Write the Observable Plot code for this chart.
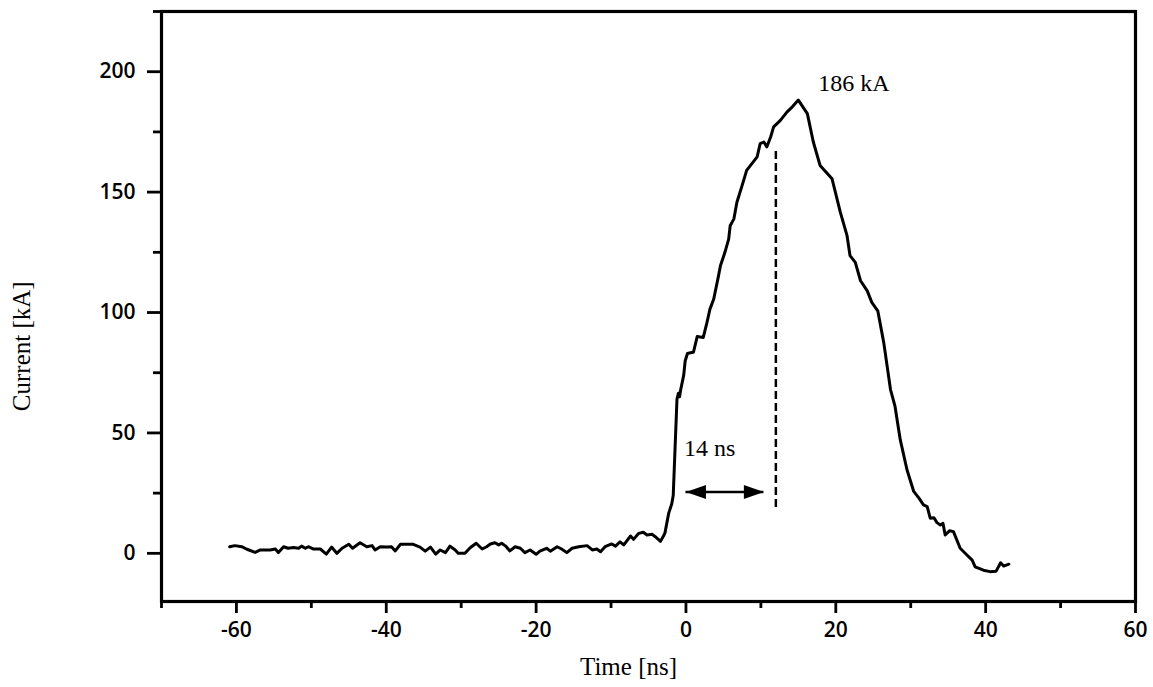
<!DOCTYPE html>
<html>
<head>
<meta charset="utf-8">
<script src="https://cdn.jsdelivr.net/npm/d3@7"></script>
<script src="https://cdn.jsdelivr.net/npm/@observablehq/plot@0.6"></script>
<style>
  html, body { margin: 0; padding: 0; background: #fff; }
  #chart svg [aria-label="frame"] { stroke-width: 3.2px; }
  #chart svg [aria-label$="tick"] { stroke-width: 2.8px; }
  #chart svg [aria-label$="tick label"] { font-weight: 600; }
</style>
</head>
<body>
<div id="chart"></div>
<script>
// ---- data ----
const time = [
  -60.9, -60.2, -59.3, -58.6, -57.5, -56.8, -55.5, -54.8, -54.4, -53.7, -53.1, -52.4, -51.7, -51.3, -50.8, -50.4,
  -49.7, -48.8, -48.0, -47.3, -46.6, -45.9, -45.0, -44.5, -43.5, -42.6, -41.9, -41.5, -40.8, -39.9, -39.3, -38.8,
  -38.1, -37.7, -36.4, -35.5, -34.8, -34.1, -33.4, -32.8, -32.1, -31.5, -30.8, -30.4, -29.5, -28.8, -28.0, -27.2,
  -26.6, -26.1, -25.5, -25.0, -24.6, -24.1, -23.5, -22.8, -22.1, -21.5, -20.8, -20.0, -19.5, -18.6, -18.1, -17.2,
  -16.6, -15.9, -15.2, -14.3, -13.2, -12.5, -11.9, -11.4, -10.8, -9.9, -9.4, -8.8, -8.3, -7.4, -7.0, -6.3,
  -5.7, -5.2, -4.5, -4.1, -3.4, -3.0, -2.8, -2.3, -1.9, -1.7, -1.2, -1.0, -0.85, -0.7, -0.3, -0.1,
  0.2, 0.6, 1.0, 1.5, 2.3, 2.8, 3.2, 3.7, 4.35, 4.6, 5.2, 5.7, 5.9, 6.4, 6.8, 7.5,
  8.1, 8.8, 9.5, 9.9, 10.4, 10.8, 11.3, 11.7, 12.6, 13.5, 14.2, 15.0, 16.2, 17.0, 17.9, 19.5,
  20.6, 21.5, 21.9, 22.6, 23.3, 24.2, 24.8, 25.6, 26.4, 27.3, 27.9, 28.6, 29.5, 30.4, 31.1, 31.7,
  32.2, 32.6, 33.1, 33.5, 33.95, 34.3, 34.6, 35.2, 35.7, 36.6, 37.5, 38.2, 38.6, 39.7, 40.6, 41.4,
  42.0, 42.4, 43.1
];
const current = [
  2.75, 3.2, 2.75, 1.7, 0.4, 1.4, 1.4, 1.8, 0.3, 2.75, 2.1, 2.4, 2.1, 3.0, 2.1, 2.75,
  1.8, 1.8, -0.3, 2.6, 0.0, 2.1, 3.75, 2.1, 4.4, 2.75, 3.2, 1.4, 2.75, 2.6, 2.75, 1.0,
  3.75, 3.75, 3.75, 2.6, 0.9, 2.6, -0.3, 1.4, 0.3, 3.0, 1.4, 0.0, 0.0, 2.3, 4.2, 1.8,
  2.75, 3.9, 4.4, 3.5, 4.2, 3.1, 1.0, 2.75, 2.1, 0.3, 1.4, -0.4, 0.9, 2.1, 0.9, 2.75,
  1.8, 0.3, 2.1, 2.75, 3.2, 1.4, 1.8, 0.7, 2.75, 3.9, 3.0, 4.8, 3.5, 7.2, 5.8, 8.3,
  8.75, 7.6, 7.9, 6.9, 5.0, 7.2, 8.5, 16.7, 20.5, 24.0, 64.0, 66.5, 65.0, 68.0, 74.0, 80.0,
  83.0, 83.3, 83.5, 90.0, 89.6, 95.8, 101.4, 105.5, 115.3, 119.4, 125.0, 130.5, 136.0, 138.9, 145.8, 152.8,
  159.0, 161.8, 164.6, 170.1, 170.8, 168.8, 172.9, 177.1, 179.8, 183.3, 185.4, 188.2, 182.6, 170.8, 161.1, 155.5,
  141.7, 131.9, 123.6, 120.8, 113.2, 109.0, 104.2, 100.7, 87.5, 68.0, 61.1, 47.2, 34.7, 25.7, 22.9, 20.1,
  19.4, 14.6, 14.8, 12.75, 11.8, 12.5, 7.6, 9.4, 9.0, 2.1, -0.7, -2.8, -5.6, -7.0, -7.6, -7.4,
  -3.9, -5.3, -4.5
];

const xMajorTicks = [-60, -40, -20, 0, 20, 40, 60];
const xMinorTicks = [-70, -50, -30, -10, 10, 30, 50];
const yMajorTicks = [0, 50, 100, 150, 200];
const yMinorTicks = [25, 75, 125, 175, 225];

const xLabel = "Time [ns]";
const yLabel = "Current [kA]";
const peakLabel = "186 kA";
const riseLabel = "14 ns";

// annotation: rise-time arrow and dashed marker
const arrowStart = 0;
const arrowEnd = 10.4;
const arrowLevel = 25.5;
const dashTime = 12;
const dashFrom = 19;
const dashTo = 167;

// label anchors (data units)
const yLabelPos = {x: -88.6, y: 86};

// ---- build ----
const data = time.map((t, i) => ({t, i: current[i]}));
const peak = data.reduce((a, b) => (b.i > a.i ? b : a));

const headRight = {draw(ctx) { ctx.moveTo(0, 0); ctx.lineTo(-20, -7); ctx.lineTo(-20, 7); ctx.closePath(); }};
const headLeft = {draw(ctx) { ctx.moveTo(0, 0); ctx.lineTo(20, -7); ctx.lineTo(20, 7); ctx.closePath(); }};

const fmt = d => String(d);
const serif = "'Liberation Serif', 'Times New Roman', serif";

const chart = Plot.plot({
  width: 1153,
  height: 687,
  marginLeft: 161,
  marginRight: 18,
  marginTop: 11,
  marginBottom: 86,
  x: {domain: [-70, 60]},
  y: {domain: [-20, 225]},
  style: {fontFamily: "'Open Sans', sans-serif", fontSize: "21px", color: "black", background: "white", overflow: "visible"},
  marks: [
    Plot.axisX({ticks: xMajorTicks, tickSize: 12, tickPadding: 9, tickFormat: fmt, strokeWidth: 2.8, label: null, fontSize: 21}),
    Plot.axisX({ticks: xMinorTicks, tickSize: 7, tickFormat: () => "", strokeWidth: 2.8, label: null}),
    Plot.axisY({ticks: yMajorTicks, tickSize: 14, tickPadding: 12, tickFormat: fmt, strokeWidth: 2.8, label: null, fontSize: 21}),
    Plot.axisY({ticks: yMinorTicks, tickSize: 8, tickFormat: () => "", strokeWidth: 2.8, label: null}),
    Plot.frame({stroke: "black", strokeWidth: 3.2}),
    Plot.line(data, {x: "t", y: "i", stroke: "black", strokeWidth: 3, strokeLinejoin: "round", strokeLinecap: "round"}),
    Plot.ruleX([dashTime], {y1: dashFrom, y2: dashTo, stroke: "black", strokeWidth: 2.5, strokeDasharray: "8,4"}),
    Plot.ruleY([arrowLevel], {x1: arrowStart, x2: arrowEnd, stroke: "black", strokeWidth: 2.5}),
    Plot.dot([arrowEnd], {x: d => d, y: () => arrowLevel, symbol: headRight, r: 5, fill: "black", stroke: "none"}),
    Plot.dot([arrowStart], {x: d => d, y: () => arrowLevel, symbol: headLeft, r: 5, fill: "black", stroke: "none"}),
    Plot.text([peakLabel], {x: () => peak.t, y: () => peak.i, text: d => d, textAnchor: "start", dx: 20, dy: -17,
      fontFamily: serif, fontSize: 24, fill: "black"}),
    Plot.text([riseLabel], {x: () => arrowStart, y: () => arrowLevel, text: d => d, textAnchor: "start", dx: -2, dy: -44,
      fontFamily: serif, fontSize: 24, fill: "black"}),
    Plot.text([xLabel], {frameAnchor: "bottom", text: d => d, dx: -20, dy: 73,
      fontFamily: serif, fontSize: 25, fill: "black"}),
    Plot.text([yLabel], {x: () => yLabelPos.x, y: () => yLabelPos.y, text: d => d, rotate: -90,
      fontFamily: serif, fontSize: 25, fill: "black"})
  ]
});
document.getElementById("chart").appendChild(chart);
</script>
</body>
</html>
